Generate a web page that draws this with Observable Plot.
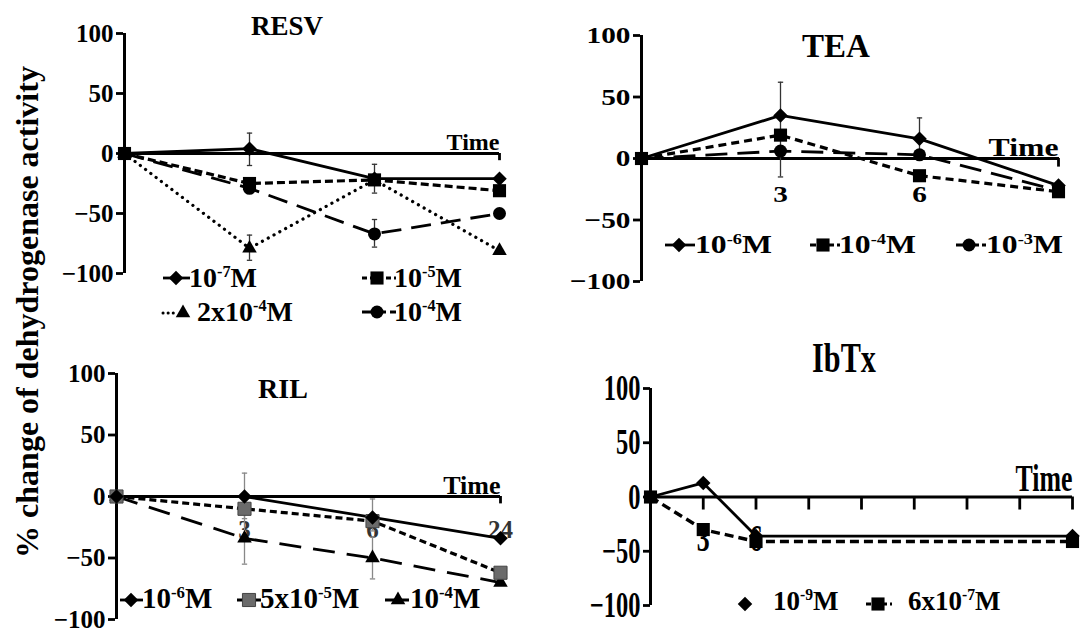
<!DOCTYPE html>
<html><head><meta charset="utf-8">
<script src="https://cdn.jsdelivr.net/npm/d3@7"></script>
<script src="https://cdn.jsdelivr.net/npm/@observablehq/plot@0.6"></script>
<style>
body{margin:0;background:#fff;}
#root{position:relative;width:1083px;height:631px;overflow:hidden;background:#fff;font-family:'Liberation Serif','DejaVu Serif',serif;}
#root svg{position:absolute;overflow:visible;}
#root svg text{font-family:'Liberation Serif','DejaVu Serif',serif;}
</style>
</head><body><div id="root"></div>
<script>
// ---------------- data ----------------
const times = [0, 3, 6, 24];
const yTicks = [-100, -50, 0, 50, 100];

// RESV
const resvNames = [["10","-7","M"], ["10","-5","M"], ["2x10","-4","M"], ["10","-4","M"]];
const resv7   = [0, 4, -21, -21];
const resv5   = [0, -25, -22, -31];
const resv2x4 = [0, -79, -22, -81];
const resv4   = [0, -29, -67, -50];
const resvErrT  = [3, 6, 3, 6];
const resvErrLo = [-10, -33, -89, -78];
const resvErrHi = [17, -9, -68, -55];

// TEA
const teaNames = [["10","-6","M"], ["10","-4","M"], ["10","-3","M"]];
const tea6 = [0, 35, 16, -22];
const tea4 = [0, 19, -14, -27];
const tea3 = [0, 6, 3, -26];
const teaErrT  = [3, 6, 3];
const teaErrLo = [8, -1, -15];
const teaErrHi = [62, 33, 10];
const teaTickLabels = [3, 6];

// RIL
const rilNames = [["10","-6","M"], ["5x10","-5","M"], ["10","-4","M"]];
const ril6   = [0, 0, -17, -34];
const ril5x5 = [0, -10, -20, -62];
const ril4   = [0, -34, -50, -70];
const rilErrT  = [3, 3, 6, 6];
const rilErrLo = [-18, -55, -67, -28];
const rilErrHi = [19, -13, -33, -2];
const rilTickLabels = [3, 6, 24];

// IbTx
const ibtxNames = [["10","-9","M"], ["6x10","-7","M"]];
const ibtx9   = [0, 13, -36, -36];
const ibtx6x7 = [0, -30, -41, -41];
const ibtxTicks = [3, 6, 9, 12, 15, 18, 21, 24];
const ibtxTickLabels = [3, 6];

const timeLabel = "Time";
const yLabel = "% change of dehydrogenase activity";
const titles = ["RESV", "TEA", "RIL", "IbTx"];

// ---------------- styles ----------------
const FONT = "'Liberation Serif', 'DejaVu Serif', serif";
const SYM = {
  diamond: {symbol: "square", rotate: 45, r: 5.8},
  square: {symbol: "square", rotate: 0, r: 7.4},
  triangle: {symbol: "triangle", rotate: 0, r: 5.4},
  circle: {symbol: "circle", rotate: 0, r: 6.5}
};
const capSymbol = {draw(ctx, size) { const w = Math.sqrt(size) / 2; ctx.moveTo(-w, 0); ctx.lineTo(w, 0); }};

const rows = vals => times.map((t, i) => ({t, v: vals[i]}));
const errRows = (T, L, Hh) => T.map((t, i) => ({t, lo: L[i], hi: Hh[i]}));

function panel(cfg) {
  const marks = [];
  marks.push(Plot.ruleX([0], {y1: -100, y2: 100, stroke: "black", strokeWidth: 3}));
  marks.push(Plot.axisY({ticks: yTicks, label: null, tickSize: 7, tickPadding: 3, fontSize: cfg.yFont, fontWeight: "bold", fontFamily: FONT, strokeWidth: 2.8, fill: "black", stroke: "black"}));
  marks.push(Plot.ruleY([0], {stroke: "black", strokeWidth: 2.8}));
  marks.push(Plot.ruleX(cfg.endTicks, {x: d => d, y1: 0, y2: cfg.endTickLen, stroke: "black", strokeWidth: 2.8}));
  marks.push(Plot.text([{t: 24, v: 0, s: timeLabel}], {x: "t", y: "v", text: "s", textAnchor: "end", lineAnchor: "bottom", dy: cfg.timeDy, fontSize: cfg.timeFont, fontWeight: "bold", fontFamily: FONT, fill: "black"}));
  if (cfg.tickLabels) marks.push(Plot.text(cfg.tickLabels, {x: d => d, y: () => 0, text: d => String(d), dy: cfg.tickDy, fontSize: cfg.tickFont, fontWeight: "bold", fontFamily: FONT, fill: cfg.tickColor || "black"}));
  if (cfg.errs) {
    marks.push(Plot.ruleX(cfg.errs, {x: "t", y1: "lo", y2: "hi", stroke: cfg.errColor, strokeWidth: 1.3}));
    marks.push(Plot.dot(cfg.errs, {x: "t", y: "hi", symbol: capSymbol, r: 3, stroke: cfg.errColor, strokeWidth: 1.3, fill: "none"}));
    marks.push(Plot.dot(cfg.errs, {x: "t", y: "lo", symbol: capSymbol, r: 3, stroke: cfg.errColor, strokeWidth: 1.3, fill: "none"}));
  }
  for (const s of cfg.series) {
    marks.push(Plot.line(rows(s.vals), {x: "t", y: "v", stroke: "black", strokeWidth: s.width || 2.8, strokeDasharray: s.dash, strokeLinecap: s.cap || "butt"}));
  }
  for (const s of cfg.series) {
    const sy = SYM[s.sym];
    marks.push(Plot.dot(rows(s.vals), {x: "t", y: "v", symbol: sy.symbol, r: sy.r, rotate: sy.rotate, fill: s.fill || "black", stroke: s.stroke || "none", strokeWidth: 1}));
  }
  const svg = Plot.plot({
    width: cfg.width, height: cfg.height,
    marginLeft: cfg.m[0], marginRight: cfg.m[1], marginTop: cfg.m[2], marginBottom: cfg.m[3],
    x: cfg.x, y: {domain: [-100, 100], axis: null},
    style: {fontFamily: FONT, background: "transparent", overflow: "visible"},
    marks
  });
  svg.style.left = cfg.left + "px";
  svg.style.top = cfg.top + "px";
  if (cfg.stretch) {
    d3.select(svg).selectAll("text").each(function() {
      const x = +this.getAttribute("x") || 0, y = +this.getAttribute("y") || 0;
      const T = this.getAttribute("transform") || "";
      this.setAttribute("transform", `${T} translate(${x},${y}) scale(${cfg.stretch},1) translate(${-x},${-y})`);
    });
  }
  return svg;
}

const root = document.getElementById("root");

root.appendChild(panel({
  left: 0, top: 0, width: 540, height: 320, m: [123, 41, 33, 47],
  x: {type: "point", domain: times, padding: 0, axis: null},
  yFont: 25, timeFont: 24, timeDy: -4, endTicks: [24], endTickLen: -6,
  errs: errRows(resvErrT, resvErrLo, resvErrHi), errColor: "#333",
  series: [
    {vals: resv2x4, sym: "triangle", dash: "0.1,6.5", cap: "round", width: 3.2},
    {vals: resv4, sym: "circle", dash: "20,10"},
    {vals: resv5, sym: "square", dash: "8,4", width: 3.2},
    {vals: resv7, sym: "diamond"}
  ]
}));

root.appendChild(panel({
  left: 540, top: 0, width: 543, height: 320, m: [100, 24, 35, 39],
  x: {type: "point", domain: times, padding: 0, axis: null},
  yFont: 24, timeFont: 26, timeDy: -3, endTicks: [24], endTickLen: -7, stretch: 1.22,
  tickLabels: teaTickLabels, tickDy: 36, tickFont: 24,
  errs: errRows(teaErrT, teaErrLo, teaErrHi), errColor: "#333",
  series: [
    {vals: tea3, sym: "circle", dash: "22,10"},
    {vals: tea4, sym: "square", dash: "8,5", width: 3.2},
    {vals: tea6, sym: "diamond"}
  ]
}));

root.appendChild(panel({
  left: 0, top: 320, width: 540, height: 311, m: [115, 40, 53, 12],
  x: {type: "point", domain: times, padding: 0, axis: null},
  yFont: 25, timeFont: 26, timeDy: -3, endTicks: [24], endTickLen: -6,
  tickLabels: rilTickLabels, tickDy: 33, tickFont: 25, tickColor: "#333",
  errs: errRows(rilErrT, rilErrLo, rilErrHi), errColor: "#888",
  series: [
    {vals: ril4, sym: "triangle", dash: "22,12"},
    {vals: ril5x5, sym: "square", dash: "7,4", width: 3.2, fill: "#6b6b6b", stroke: "#444"},
    {vals: ril6, sym: "diamond"}
  ]
}));

root.appendChild(panel({
  left: 540, top: 320, width: 543, height: 311, m: [110, 11, 68, 26],
  x: {type: "linear", domain: [0, 24], axis: null},
  yFont: 36, timeFont: 38, timeDy: -6, endTicks: ibtxTicks, endTickLen: -12, stretch: 0.68,
  tickLabels: ibtxTickLabels, tickDy: 42, tickFont: 38,
  series: [
    {vals: ibtx6x7, sym: "square", dash: "9,5", width: 3.4},
    {vals: ibtx9, sym: "diamond"}
  ]
}));

// ---------------- overlay: titles, y label, legends ----------------
const ov = d3.select(root).append("svg").attr("width", 1083).attr("height", 631)
  .style("left", "0px").style("top", "0px")
  .attr("font-family", FONT).attr("font-weight", "bold");

function title(txt, cx, base, size, sx = 1) {
  ov.append("text").attr("transform", `translate(${cx},${base}) scale(${sx},1)`)
    .attr("text-anchor", "middle").attr("font-size", size).attr("fill", "black").text(txt);
}
title(titles[0], 287, 35, 27);
title(titles[1], 836, 57, 33);
title(titles[2], 283, 398, 28);
title(titles[3], 844, 372, 42, 0.72);

ov.append("text").attr("transform", "translate(38,312) rotate(-90)")
  .attr("text-anchor", "middle").attr("font-size", 32).attr("fill", "black").text(yLabel);

function supText(parts, x, base, size, sx = 1) {
  const t = ov.append("text").attr("transform", `translate(${x},${base}) scale(${sx},1)`)
    .attr("font-size", size).attr("fill", "black");
  t.append("tspan").text(parts[0]);
  t.append("tspan").attr("dy", -size * 0.36).attr("font-size", size * 0.58).text(parts[1]);
  t.append("tspan").attr("dy", size * 0.36).text(parts[2]);
}
function legSym(kind, x1, x2, cx, cy, dash, opts = {}) {
  if (x2 > x1) ov.append("line").attr("x1", x1).attr("x2", x2).attr("y1", cy).attr("y2", cy)
    .attr("stroke", "black").attr("stroke-width", opts.w || 2.8)
    .attr("stroke-dasharray", dash).attr("stroke-linecap", opts.cap || "butt");
  const sy = SYM[kind];
  const type = sy.symbol === "square" ? d3.symbolSquare : sy.symbol === "triangle" ? d3.symbolTriangle : d3.symbolCircle;
  ov.append("path").attr("d", d3.symbol(type, Math.PI * sy.r * sy.r)())
    .attr("transform", `translate(${cx},${cy}) rotate(${sy.rotate})`)
    .attr("fill", opts.fill || "black").attr("stroke", opts.stroke || "none");
}

// RESV legend
legSym("diamond", 163, 190, 176, 278, null);
supText(resvNames[0], 189, 287, 28);
legSym("square", 362, 396, 377, 278, "5,3");
supText(resvNames[1], 394, 287, 28);
legSym("triangle", 163, 176, 183, 313, "0.1,5", {cap: "round", w: 3});
supText(resvNames[2], 197, 321, 28);
legSym("circle", 362, 396, 377, 312, "10,4");
supText(resvNames[3], 394, 321, 28);

// TEA legend
legSym("diamond", 665, 695, 679, 245, null);
supText(teaNames[0], 695, 253, 26, 1.22);
legSym("square", 810, 840, 823, 245, "6,3");
supText(teaNames[1], 839, 253, 26, 1.22);
legSym("circle", 956, 986, 969, 245, "10,3");
supText(teaNames[2], 986, 253, 26, 1.22);

// RIL legend
legSym("diamond", 120, 143, 131, 600, null);
supText(rilNames[0], 142, 608, 29);
legSym("square", 237, 262, 249, 600, "6,3", {fill: "#6b6b6b", stroke: "#444"});
supText(rilNames[1], 260, 608, 29);
legSym("triangle", 385, 410, 398, 600, "10,4");
supText(rilNames[2], 410, 608, 29);

// IbTx legend
legSym("diamond", 0, 0, 745, 604, null);
supText(ibtxNames[0], 773, 610, 27);
legSym("square", 866, 892, 878, 604, "5,3");
supText(ibtxNames[1], 908, 610, 27);
</script>
</body></html>
